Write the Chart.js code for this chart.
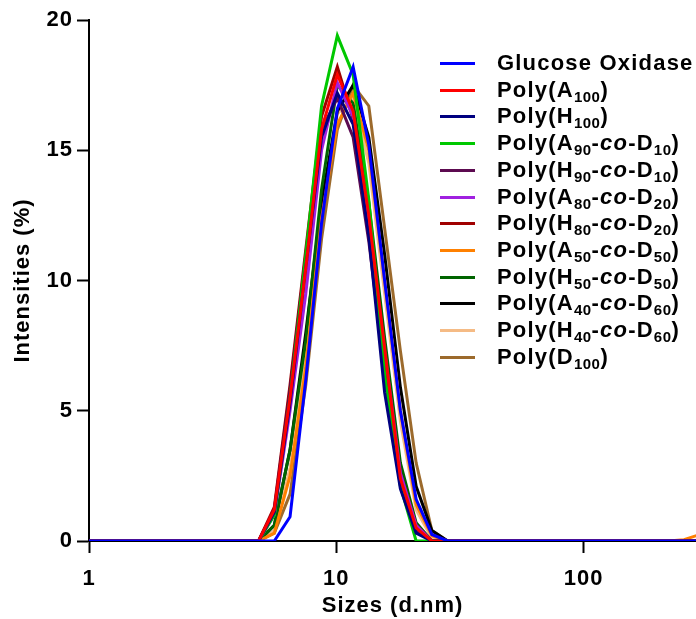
<!DOCTYPE html>
<html>
<head>
<meta charset="utf-8">
<script src="https://cdn.jsdelivr.net/npm/chart.js@4"></script>
<style>
  html, body { margin: 0; padding: 0; background: #fff; overflow: hidden; }
  #wrap { position: relative; width: 696px; height: 619px; }
  #legend { position: absolute; left: 440px; top: 50px; font-family: "Liberation Sans", Arial, sans-serif; font-weight: bold; font-size: 22px; letter-spacing: 1.2px; color: #000; }
  .item { position: absolute; left: 0; height: 26px; white-space: nowrap; }
  .swatch { position: absolute; left: 0; top: 12px; width: 35px; height: 3px; }
  .lbl { position: absolute; left: 57px; top: 0; line-height: 26px; }
  .lbl sub { font-size: 15px; vertical-align: -5px; line-height: 0; letter-spacing: 0.5px; }
  .lbl i { font-style: italic; }
</style>
</head>
<body>
<div id="wrap">
  <canvas id="c" width="696" height="619"></canvas>
  <div id="legend"></div>
</div>
<script>
// Hydrodynamic size bins (d.nm)
const sizes = [0.9649, 4.849, 5.615, 6.503, 7.531, 8.721, 10.10, 11.70, 13.54, 15.69, 18.17, 21.04, 24.36, 28.21, 220.2, 255.0, 295.3];

const glucoseOxidase = [0, 0, 0, 0.93, 6.2, 12.2, 16.6, 18.2, 15.2, 10.0, 5.0, 1.6, 0.25, 0, 0, 0, 0];
const polyA100       = [0, 0, 1.2, 5.5, 10.5, 15.8, 17.9, 16.5, 12.5, 7.4, 2.4, 0.5, 0, 0, 0, 0, 0];
const polyH100       = [0, 0, 1.1, 5.3, 10.5, 15.5, 17.2, 16.0, 11.7, 5.7, 2.0, 0.3, 0, 0, 0, 0, 0];
const polyA90D10     = [0, 0, 1.0, 5.5, 11.0, 16.7, 19.4, 17.9, 13.1, 6.4, 2.1, 0, 0, 0, 0, 0, 0];
const polyH90D10     = [0, 0, 1.2, 5.8, 11.0, 15.8, 17.0, 15.5, 11.5, 6.5, 2.3, 0.4, 0, 0, 0, 0, 0];
const polyA80D20     = [0, 0, 1.0, 5.0, 9.5, 15.0, 17.6, 16.3, 12.3, 7.3, 2.6, 0.6, 0, 0, 0, 0, 0];
const polyH80D20     = [0, 0, 1.3, 6.0, 11.2, 16.3, 18.2, 16.2, 12.0, 7.0, 2.6, 0.6, 0, 0, 0, 0, 0];
const polyA50D50     = [0, 0, 0.3, 2.5, 6.7, 12.4, 16.0, 17.2, 15.0, 10.0, 5.0, 1.4, 0.2, 0, 0, 0.05, 0.25];
const polyH50D50     = [0, 0, 0.6, 3.5, 7.7, 13.5, 17.5, 16.8, 13.0, 7.8, 3.0, 0.7, 0, 0, 0, 0, 0];
const polyA40D60     = [0, 0, 0.6, 3.5, 8.0, 13.0, 16.5, 17.5, 15.5, 11.0, 5.9, 2.1, 0.4, 0, 0, 0, 0];
const polyH40D60     = [0, 0, 0.4, 2.8, 7.0, 12.5, 16.4, 17.0, 14.5, 9.5, 4.6, 1.2, 0.1, 0, 0, 0, 0];
const polyD100       = [0, 0, 0.3, 1.8, 6.0, 11.6, 15.8, 17.5, 16.7, 12.0, 7.3, 3.0, 0.4, 0, 0, 0, 0];

const seriesLabelsHtml = [
  'Glucose Oxidase',
  'Poly(A<sub>100</sub>)',
  'Poly(H<sub>100</sub>)',
  'Poly(A<sub>90</sub>-<i>co</i>-D<sub>10</sub>)',
  'Poly(H<sub>90</sub>-<i>co</i>-D<sub>10</sub>)',
  'Poly(A<sub>80</sub>-<i>co</i>-D<sub>20</sub>)',
  'Poly(H<sub>80</sub>-<i>co</i>-D<sub>20</sub>)',
  'Poly(A<sub>50</sub>-<i>co</i>-D<sub>50</sub>)',
  'Poly(H<sub>50</sub>-<i>co</i>-D<sub>50</sub>)',
  'Poly(A<sub>40</sub>-<i>co</i>-D<sub>60</sub>)',
  'Poly(H<sub>40</sub>-<i>co</i>-D<sub>60</sub>)',
  'Poly(D<sub>100</sub>)'
];
const seriesLabels = ['Glucose Oxidase','Poly(A100)','Poly(H100)','Poly(A90-co-D10)','Poly(H90-co-D10)','Poly(A80-co-D20)','Poly(H80-co-D20)','Poly(A50-co-D50)','Poly(H50-co-D50)','Poly(A40-co-D60)','Poly(H40-co-D60)','Poly(D100)'];
const seriesValues = [glucoseOxidase, polyA100, polyH100, polyA90D10, polyH90D10, polyA80D20, polyH80D20, polyA50D50, polyH50D50, polyA40D60, polyH40D60, polyD100];
const seriesColors = ['#0000ff','#ff0000','#000080','#00c800','#5c0a50','#a020e0','#a00000','#ff8000','#006400','#000000','#f5bb85','#9c6a2c'];

const xTicks = [1, 10, 100];
const yTicks = [0, 5, 10, 15, 20];

const FONT = { family: '"Liberation Sans", Arial, sans-serif', weight: 'bold', size: 22 };

const datasets = seriesValues.map((vals, i) => ({
  label: seriesLabels[i],
  data: sizes.map((s, j) => ({ x: s, y: vals[j] })),
  borderColor: seriesColors[i],
  backgroundColor: seriesColors[i],
  borderWidth: 3,
  pointRadius: 0,
  tension: 0,
  fill: false
}));

const spacingPlugin = {
  id: 'spacing',
  beforeDraw(chart) { chart.ctx.letterSpacing = '1px'; }
};

new Chart(document.getElementById('c'), {
  type: 'line',
  data: { datasets },
  plugins: [spacingPlugin],
  options: {
    responsive: false,
    animation: false,
    devicePixelRatio: 1,
    layout: { padding: { top: 20, right: 0, left: 0, bottom: 0 } },
    plugins: { legend: { display: false }, tooltip: { enabled: false } },
    scales: {
      x: {
        type: 'logarithmic',
        min: 1,
        max: 285,
        afterBuildTicks: (s) => { s.ticks = xTicks.map(v => ({ value: v, major: true })); },
        afterFit: (s) => { s.height = 78; },
        ticks: { color: '#000', font: FONT, padding: 13, maxRotation: 0, autoSkip: false, callback: (v) => String(v) },
        grid: { display: true, drawOnChartArea: false, drawTicks: true, tickLength: 12, tickWidth: 2, tickColor: '#000' },
        border: { display: true, color: '#000', width: 2 },
        title: { display: true, text: 'Sizes (d.nm)', color: '#000', font: FONT, padding: { top: 0, bottom: 0 } }
      },
      y: {
        min: 0,
        max: 20,
        afterBuildTicks: (s) => { s.ticks = yTicks.map(v => ({ value: v })); },
        afterFit: (s) => { s.width = 89; },
        ticks: { color: '#000', font: FONT, padding: 4 },
        grid: { display: true, drawOnChartArea: false, drawTicks: true, tickLength: 12, tickWidth: 2, tickColor: '#000' },
        border: { display: true, color: '#000', width: 2 },
        title: { display: true, text: 'Intensities (%)', color: '#000', font: FONT, padding: { top: 10, bottom: 0 } }
      }
    }
  }
});

const legend = document.getElementById('legend');
seriesLabelsHtml.forEach((html, i) => {
  const item = document.createElement('div');
  item.className = 'item';
  item.style.top = (i * 26.7) + 'px';
  const sw = document.createElement('div');
  sw.className = 'swatch';
  sw.style.background = seriesColors[i];
  const lb = document.createElement('div');
  lb.className = 'lbl';
  lb.innerHTML = html;
  item.appendChild(sw);
  item.appendChild(lb);
  legend.appendChild(item);
});
</script>
</body>
</html>
